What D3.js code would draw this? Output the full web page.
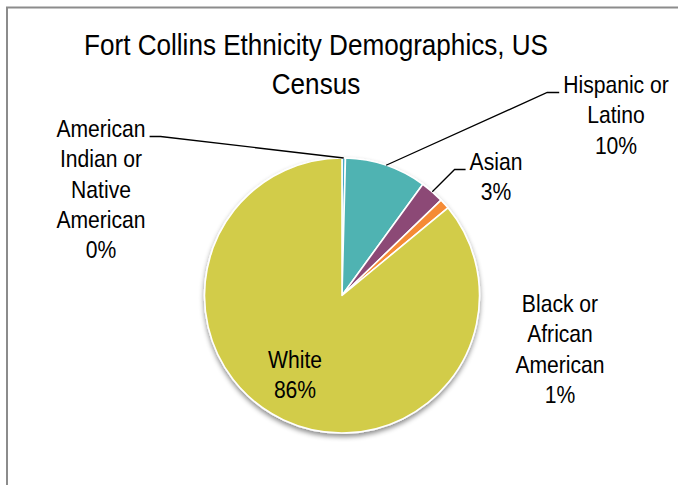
<!DOCTYPE html>
<html>
<head>
<meta charset="utf-8">
<script src="https://cdn.jsdelivr.net/npm/d3@7"></script>
<style>
  html, body { margin: 0; padding: 0; background: #fff; }
  svg { display: block; }
  text { font-family: "Liberation Sans Narrow", "Arial Narrow", "Liberation Sans", sans-serif; fill: #000; }
</style>
</head>
<body>
<svg id="chart" width="678" height="485"></svg>
<script>
// Ethnic composition of Fort Collins (share of population, %)
const categories = ["American Indian or Native American", "Hispanic or Latino", "Asian", "Black or African American", "White"];
const values = [0.4, 9.6, 2.8, 1.2, 86.0];
const colors = ["#4bacc6", "#4fb3b2", "#8c4a76", "#f58b35", "#d2cc48"];
const labelLines = [
  ["American", "Indian or", "Native", "American"],
  ["Hispanic or", "Latino"],
  ["Asian"],
  ["Black or", "African", "American"],
  ["White"]
];
const titleLines = ["Fort Collins Ethnicity Demographics, US", "Census"];

const svg = d3.select("#chart");
const W = 678, H = 485;

// Condensed text: regular sans squeezed horizontally
function narrowText(x, size, squeeze) {
  return svg.append("text")
    .attr("transform", `translate(${x},0) scale(${squeeze},1)`)
    .attr("text-anchor", "middle")
    .attr("font-size", size);
}

// Chart frame (top and left edges visible)
svg.append("path")
  .attr("d", `M7,${H} L7,7.5 L${W},7.5`)
  .attr("fill", "none")
  .attr("stroke", "#8c8c8c")
  .attr("stroke-width", 2);

// Title
const title = narrowText(316, 30, 0.87);
title.selectAll("tspan").data(titleLines).join("tspan")
  .attr("x", 0)
  .attr("y", (d, i) => 55 + i * 39)
  .text(d => d);

// Drop shadow for the pie
const defs = svg.append("defs");
const f = defs.append("filter").attr("id", "shadow")
  .attr("x", "-20%").attr("y", "-20%").attr("width", "140%").attr("height", "140%");
f.append("feDropShadow")
  .attr("dx", 0).attr("dy", 3).attr("stdDeviation", 2.5)
  .attr("flood-color", "#000").attr("flood-opacity", 0.45);

const cx = 342, cy = 295.5, r = 137.5;
const total = d3.sum(values);
const data = categories.map((c, i) => ({ name: c, value: values[i], color: colors[i], lines: labelLines[i] }));

const pie = d3.pie().value(d => d.value).sort(null);
const arc = d3.arc().innerRadius(0).outerRadius(r);
const arcs = pie(data);

const g = svg.append("g").attr("transform", `translate(${cx},${cy})`);
g.append("g").attr("filter", "url(#shadow)")
  .selectAll("path").data(arcs).join("path")
  .attr("d", arc)
  .attr("fill", d => d.data.color)
  .attr("stroke", "#fff")
  .attr("stroke-width", 1.6)
  .attr("stroke-linejoin", "round");

const pct = d3.format(".0%");

// Label placement (text block centre x, first baseline y) and leader lines
const labelPos = [
  { x: 101, y: 137, leader: true, anchorLen: 11, side: -1 },
  { x: 616, y: 93, leader: true, anchorLen: 12, side: 1 },
  { x: 496, y: 170, leader: true, anchorLen: 11, side: 1 },
  { x: 560, y: 312, leader: false },
  { x: 295, y: 368, leader: false }
];
const lineH = 30.3;
const labelSqueeze = 0.88;

arcs.forEach((a, i) => {
  const p = labelPos[i];
  const lines = a.data.lines.concat([pct(a.data.value / total)]);
  const t = narrowText(p.x, 24, labelSqueeze);
  t.selectAll("tspan").data(lines).join("tspan")
    .attr("x", 0)
    .attr("y", (d, k) => p.y + k * lineH)
    .text(d => d);

  if (p.leader) {
    const mid = (a.startAngle + a.endAngle) / 2;
    const sx = cx + Math.sin(mid) * r, sy = cy - Math.cos(mid) * r;
    // horizontal stub sits at the label's first line, next to its text
    const textW = t.select("tspan").node().getComputedTextLength() * labelSqueeze;
    const ey = p.y - 0.5;
    const ex = p.side > 0 ? p.x - textW / 2 - 4 : p.x + textW / 2 + 4;
    const bx = ex - p.side * p.anchorLen;
    svg.append("path")
      .attr("d", `M${sx},${sy} L${bx},${ey} L${ex},${ey}`)
      .attr("fill", "none")
      .attr("stroke", "#000")
      .attr("stroke-width", 1.3);
  }
});
</script>
</body>
</html>
